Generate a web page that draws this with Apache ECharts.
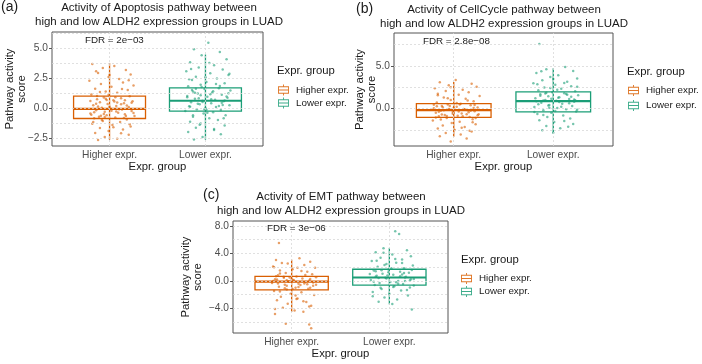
<!DOCTYPE html>
<html>
<head>
<meta charset="utf-8">
<script src="https://cdn.jsdelivr.net/npm/echarts@6/dist/echarts.min.js"></script>
<style>
  html, body { margin: 0; padding: 0; background: #fff; }
  #chart-ctn { width: 702px; height: 364px; }
</style>
</head>
<body>
<div id="chart-ctn"></div>
<script>
var groups = ['Higher expr.', 'Lower expr.'];
var colors = ['#D95F02', '#1B9E77'];

// box stats: [x, whisker low, q1, median, q3, whisker high]
var apoBox = [[1, -2.6, -0.83, -0.03, 1.03, 3.8], [2, -2.6, -0.22, 0.65, 1.72, 4.5]];
var cycBox = [[1, -3.3, -1.05, -0.2, 0.58, 3.1], [2, -2.9, -0.4, 0.86, 1.95, 4.7]];
var emtBox = [[1, -4.5, -1.3, -0.1, 0.68, 3.1], [2, -3.4, -0.6, 0.5, 1.7, 4.8]];

var apoTicks = [-2.5, 0, 2.5, 5];
var apoMinor = [-1.25, 1.25, 3.75, 6.25];
var cycTicks = [0, 5];
var cycMinor = [-2.5, 2.5, 7.5];
var emtTicks = [-4, 0, 4, 8];
var emtMinor = [-6, -2, 2, 6];

var apoHigh = [[0.82,3.72],[1.05,3.55],[0.93,3.38],[1.17,3.21],[0.88,2.96],[1.22,2.84],[0.99,2.62],[1.10,2.47],[0.79,2.31],[1.14,2.18],[0.91,2.05],[1.25,1.92],[1.02,1.81],[0.85,1.66],[1.19,1.54],[0.96,1.43],[1.08,1.31],[0.81,1.18],[1.21,1.02],[0.94,0.93],[1.12,0.86],[0.87,0.77],[1.04,0.69],[1.24,0.61],[0.90,0.52],[1.15,0.44],[0.98,0.37],[0.83,0.28],[1.07,0.21],[1.20,0.13],[0.92,0.06],[1.01,-0.02],[1.13,-0.08],[0.86,-0.14],[1.23,-0.21],[0.95,-0.27],[1.09,-0.34],[0.80,-0.41],[1.16,-0.47],[0.97,-0.55],[1.26,-0.61],[0.89,-0.68],[1.06,-0.74],[0.84,-0.81],[1.18,-0.92],[0.93,-1.04],[1.11,-1.13],[0.82,-1.26],[1.03,-1.38],[1.22,-1.49],[0.90,-1.62],[1.14,-1.75],[0.99,-1.88],[0.85,-2.03],[1.20,-2.19],[0.95,-2.36],[1.08,-2.51],[0.88,-2.62],[1.00,0.15],[0.94,-0.45],[1.12,0.35],[0.87,1.05],[1.17,-0.62],[1.05,0.58],
  [0.97,0.72],[1.18,0.25],[0.84,-0.30],[1.06,0.95],[0.91,-0.60],[1.23,0.48],[1.02,-0.18],[0.80,0.62],[1.15,-0.78],[0.96,0.82],[1.10,-0.05],[0.86,0.40],[1.25,-0.36],[0.99,1.15],[0.83,-1.12],[1.13,1.62],[0.92,-0.95],[1.20,2.35],[1.04,-1.55],[0.88,0.18],[1.16,0.70],[0.95,-0.70],[1.08,0.50],[0.81,-0.52],[1.21,-1.30],[1.00,2.80],[0.90,1.38],[1.12,-2.05],[0.86,3.10],[1.07,-0.25]];
var apoLow = [[2.03,5.48],[1.88,4.95],[2.15,4.72],[1.96,4.45],[2.22,4.10],[1.84,3.85],[2.09,3.60],[1.93,3.42],[2.18,3.25],[1.80,3.10],[2.05,2.95],[2.24,2.80],[1.90,2.66],[2.12,2.50],[1.86,2.38],[2.01,2.22],[2.20,2.10],[1.95,1.98],[1.82,1.86],[2.14,1.70],[1.99,1.62],[2.26,1.50],[1.87,1.42],[2.07,1.33],[1.92,1.25],[2.17,1.16],[1.81,1.05],[2.02,0.98],[2.23,0.90],[1.89,0.82],[2.10,0.74],[1.97,0.66],[2.19,0.60],[1.85,0.52],[2.06,0.45],[1.94,0.36],[2.25,0.28],[1.83,0.20],[2.11,0.12],[2.00,0.04],[1.91,-0.05],[2.16,-0.12],[1.79,-0.20],[2.08,-0.30],[1.98,-0.42],[2.21,-0.55],[1.87,-0.68],[2.04,-0.80],[2.13,-0.95],[1.84,-1.10],[1.95,-1.25],[2.20,-1.42],[1.90,-1.60],[2.09,-1.78],[1.82,-1.95],[2.16,-2.15],[1.97,-2.38],[1.88,-2.58],[2.05,1.20],[1.93,0.85],[2.18,0.30],[1.86,1.55],[2.01,-0.10],
  [1.95,1.10],[2.20,0.68],[1.84,0.15],[2.08,1.45],[1.92,0.40],[2.15,1.88],[2.02,-0.35],[1.81,0.95],[2.24,1.28],[1.97,0.55],[2.11,2.05],[1.87,-0.55],[2.06,0.78],[2.19,-0.80],[1.90,1.65],[2.00,2.60],[1.85,3.30],[2.14,0.22],[1.94,-1.35],[2.22,1.00],[2.04,3.80],[1.89,1.32],[2.17,0.48],[1.99,-0.05],[1.83,2.45],[2.09,-1.70],[2.25,2.90],[1.96,1.80]];

var cycHigh = [[1.02,3.35],[0.86,3.08],[1.18,2.90],[0.95,2.72],[1.23,2.55],[0.81,2.38],[1.09,2.20],[0.92,2.05],[1.15,1.90],[0.84,1.74],[1.05,1.60],[1.26,1.45],[0.90,1.30],[1.12,1.15],[0.97,1.00],[1.20,0.85],[0.83,0.70],[1.07,0.55],[0.94,0.46],[1.17,0.37],[0.88,0.28],[1.03,0.20],[1.24,0.11],[0.80,0.03],[1.10,-0.06],[0.96,-0.13],[1.14,-0.19],[0.87,-0.25],[1.21,-0.33],[0.99,-0.41],[0.82,-0.50],[1.08,-0.58],[1.25,-0.66],[0.91,-0.75],[1.04,-0.84],[0.85,-0.92],[1.16,-1.00],[0.93,-1.12],[1.19,-1.25],[0.79,-1.40],[1.06,-1.55],[0.98,-1.70],[1.22,-1.85],[0.89,-2.00],[1.11,-2.18],[0.84,-2.35],[1.01,-2.52],[1.18,-2.70],[0.92,-2.88],[1.07,-3.05],[0.86,-3.25],[1.13,-3.50],[0.97,-3.85],[1.00,0.10],[1.15,-0.45],[0.88,-0.70],[1.21,0.40],[0.95,-0.05],[1.09,-0.90],[0.83,0.25],
  [0.96,0.30],[1.13,-0.68],[0.85,-0.38],[1.20,0.05],[0.93,-0.88],[1.06,0.48],[0.82,-1.05],[1.17,-0.25],[1.00,-0.52],[0.89,0.15],[1.24,-0.80],[1.03,0.65],[0.87,-1.30],[1.11,-0.10],[0.94,1.20],[1.19,-1.62],[0.80,0.45],[1.08,-2.25],[0.97,2.50],[1.14,0.95],[0.90,-0.20],[1.22,-1.10],[1.05,-0.35],[0.84,1.55],[1.16,-2.60],[0.99,-0.62]];
var cycLow = [[1.86,7.55],[2.12,4.85],[1.93,4.60],[2.20,4.38],[1.83,4.15],[2.05,3.90],[1.97,3.70],[2.24,3.50],[1.89,3.30],[2.14,3.12],[1.80,2.95],[2.02,2.78],[2.18,2.60],[1.91,2.45],[2.08,2.30],[1.85,2.15],[2.22,2.02],[1.99,1.90],[2.11,1.78],[1.87,1.66],[2.25,1.55],[1.95,1.44],[2.06,1.32],[1.82,1.20],[2.16,1.10],[1.92,1.00],[2.03,0.90],[2.21,0.80],[1.88,0.68],[2.09,0.55],[1.96,0.42],[2.19,0.30],[1.81,0.18],[2.04,0.05],[2.13,-0.08],[1.90,-0.20],[2.23,-0.35],[1.98,-0.50],[1.84,-0.65],[2.10,-0.82],[1.94,-1.00],[2.17,-1.18],[1.86,-1.38],[2.01,-1.58],[2.20,-1.80],[1.93,-2.05],[2.07,-2.30],[1.89,-2.55],[2.00,-2.85],[2.14,1.60],[1.85,0.50],[2.05,1.25],[1.97,2.40],[2.24,-0.15],[1.90,0.95],[2.11,3.00],
  [1.98,1.15],[2.16,0.62],[1.87,1.48],[2.08,0.20],[1.93,1.85],[2.21,1.05],[2.02,-0.28],[1.83,0.85],[2.13,1.70],[1.95,0.35],[2.24,2.55],[1.90,-0.75],[2.06,0.75],[2.18,1.38],[1.84,2.85],[2.00,3.45],[2.11,-1.45],[1.96,0.10],[2.22,0.98],[1.88,4.35],[2.04,2.20],[1.81,-0.40],[2.15,-2.15],[1.92,1.75]];

var emtHigh = [[0.87,5.50],[1.08,3.30],[0.84,3.05],[1.19,2.80],[0.96,2.55],[1.13,2.30],[0.81,2.10],[1.24,1.90],[1.01,1.70],[0.88,1.50],[1.16,1.32],[0.94,1.15],[1.21,0.98],[0.86,0.82],[1.05,0.65],[1.25,0.55],[0.92,0.45],[1.11,0.35],[0.83,0.25],[1.02,0.15],[1.18,0.05],[0.97,-0.05],[1.14,-0.15],[0.80,-0.28],[1.07,-0.42],[0.93,-0.56],[1.22,-0.70],[0.87,-0.84],[1.04,-0.98],[1.17,-1.12],[0.95,-1.25],[0.82,-1.45],[1.10,-1.65],[0.99,-1.85],[1.23,-2.05],[0.89,-2.30],[1.06,-2.55],[0.85,-2.80],[1.15,-3.05],[0.96,-3.30],[1.20,-3.60],[0.91,-3.90],[0.83,-4.05],[1.12,-4.45],[0.83,-4.80],[1.03,-4.30],[0.94,-6.20],[1.18,-6.30],[1.20,-6.85],[1.00,0.30],[1.09,-0.60],[0.88,1.10],[1.19,-1.00],[0.95,0.10],[1.13,-0.35],[0.82,2.00],[1.05,-2.60],
  [0.98,0.50],[1.16,-0.48],[0.85,0.20],[1.07,-0.88],[0.92,0.62],[1.22,-0.22],[1.01,-1.18],[0.81,-0.02],[1.14,0.85],[0.95,-0.70],[1.10,1.45],[0.88,-1.52],[1.19,0.28],[1.04,-2.10],[0.90,2.60],[1.25,-0.55],[0.97,-0.12],[1.12,-2.95],[0.84,0.70],[1.06,1.90],[0.93,-1.05],[1.18,-3.70],[1.02,0.05],[0.86,-0.35]];
var emtLow = [[2.06,7.20],[2.10,6.80],[1.94,4.75],[2.18,4.45],[1.86,4.15],[2.03,3.85],[2.22,3.60],[1.91,3.35],[2.13,3.10],[1.82,2.88],[2.07,2.65],[1.97,2.45],[2.24,2.25],[1.88,2.05],[2.15,1.85],[1.99,1.65],[1.84,1.50],[2.11,1.35],[2.20,1.20],[1.93,1.05],[2.04,0.90],[1.87,0.75],[2.17,0.60],[1.96,0.45],[2.25,0.30],[1.81,0.15],[2.09,0.00],[2.01,-0.15],[1.90,-0.30],[2.14,-0.45],[1.85,-0.58],[2.05,-0.75],[2.21,-0.95],[1.92,-1.15],[2.12,-1.38],[1.83,-1.60],[2.00,-1.85],[2.19,-2.10],[1.95,-2.40],[2.08,-2.70],[1.89,-3.00],[2.03,-3.35],[2.23,-4.15],[2.16,0.50],[1.86,1.40],[2.07,-0.20],[1.98,0.80],[2.13,2.60],[1.91,-1.00],[2.22,0.25],[1.80,1.00],
  [1.97,0.35],[2.15,1.15],[1.86,0.62],[2.09,-0.40],[1.92,1.55],[2.21,0.08],[2.02,1.85],[1.84,-0.12],[2.13,0.95],[1.95,2.30],[2.25,-0.65],[1.89,0.42],[2.06,3.20],[2.18,-1.30],[1.99,1.25],[1.83,-2.20],[2.11,0.70],[1.94,4.10],[2.23,1.60],[2.04,-0.88],[1.87,2.95],[2.16,-0.02]];

var titles = [
  'Activity of Apoptosis pathway between\nhigh and low ALDH2 expression groups in LUAD',
  'Activity of CellCycle pathway between\nhigh and low ALDH2 expression groups in LUAD',
  'Activity of EMT pathway between\nhigh and low ALDH2 expression groups in LUAD'
];
var fdrs = ['FDR = 2e\u221203', 'FDR = 2.8e\u221208', 'FDR = 3e\u221206'];
var tags = ['(a)', '(b)', '(c)'];

var FONT = "'Liberation Sans', Arial, sans-serif";
var BOX_WIDTH = 0.75;
var ICON = 'path://M0,2H12V10H0ZM1,3V9H11V3ZM1,5.5H11V6.5H1ZM5.5,0H6.5V2H5.5ZM5.5,10H6.5V12H5.5Z';

// panel layout: grid rect, y range, text spots
var panels = [
  {grid: {left: 52, top: 32, width: 211, height: 114}, ymin: -3.12, ymax: 6.38, nameGap: 24,
   box: apoBox, high: apoHigh, low: apoLow, ticks: apoTicks, minor: apoMinor,
   title: [159, 1.5], tag: [1, 0], fdr: [85, 35], legT: [277, 65], leg: [278, 84.5], gap: 2},
  {grid: {left: 394, top: 33, width: 219, height: 113}, ymin: -4.39, ymax: 8.84, nameGap: 16,
   box: cycBox, high: cycHigh, low: cycLow, ticks: cycTicks, minor: cycMinor,
   title: [504, 3.4], tag: [356, 2], fdr: [423, 36], legT: [627, 66], leg: [628, 85], gap: 4},
  {grid: {left: 233, top: 221, width: 215, height: 112}, ymin: -7.55, ymax: 8.7, nameGap: 29,
   box: emtBox, high: emtHigh, low: emtLow, ticks: emtTicks, minor: emtMinor,
   title: [341, 190.5], tag: [203, 188.5], fdr: [267, 223.5], legT: [461, 254], leg: [461, 273], gap: 2}
];

function renderBox(params, api) {
  var x = api.value(0);
  var lo = api.coord([x, api.value(1)]);
  var q1 = api.coord([x, api.value(2)]);
  var md = api.coord([x, api.value(3)]);
  var q3 = api.coord([x, api.value(4)]);
  var hi = api.coord([x, api.value(5)]);
  var half = api.size([BOX_WIDTH, 0])[0] / 2;
  var color = api.visual('color');
  return {
    type: 'group',
    children: [
      {type: 'line', shape: {x1: lo[0], y1: lo[1], x2: hi[0], y2: hi[1]}, style: {stroke: color, lineWidth: 1.3}},
      {type: 'rect', shape: {x: q3[0] - half, y: q3[1], width: half * 2, height: q1[1] - q3[1]}, style: {fill: 'none', stroke: color, lineWidth: 1.3}},
      {type: 'line', shape: {x1: md[0] - half, y1: md[1], x2: md[0] + half, y2: md[1]}, style: {stroke: color, lineWidth: 2.2}}
    ]
  };
}

function yLabel(v) {
  return (v < 0 ? '\u2212' : '') + Math.abs(v).toFixed(1);
}

var option = {
  animation: false,
  backgroundColor: '#fff',
  title: [], legend: [], grid: [], xAxis: [], yAxis: [], series: []
};

panels.forEach(function(p, i) {
  option.grid.push({left: p.grid.left, top: p.grid.top, width: p.grid.width, height: p.grid.height,
    show: true, borderColor: '#555', borderWidth: 1, backgroundColor: 'transparent'});

  option.xAxis.push({
    type: 'value', gridIndex: i, min: 0.4, max: 2.6,
    name: 'Expr. group', nameLocation: 'middle', nameGap: 15, nameMoveOverlap: false,
    nameTextStyle: {fontFamily: FONT, fontSize: 11.3, color: '#1a1a1a'},
    axisLine: {show: false},
    axisTick: {show: true, length: 3, lineStyle: {color: '#555'}, customValues: [1, 2]},
    axisLabel: {customValues: [1, 2], margin: 4, fontFamily: FONT, fontSize: 10.2, color: '#4d4d4d',
      formatter: function(v) { return groups[Math.round(v) - 1]; }},
    splitLine: {show: false}
  });

  option.yAxis.push({
    type: 'value', gridIndex: i, min: p.ymin, max: p.ymax,
    name: 'Pathway activity\nscore', nameLocation: 'middle', nameRotate: 90, nameGap: p.nameGap,
    nameMoveOverlap: false,
    nameTextStyle: {fontFamily: FONT, fontSize: 11.3, color: '#1a1a1a', lineHeight: 12},
    axisLine: {show: false},
    axisTick: {show: true, length: 3, lineStyle: {color: '#555'}, customValues: p.ticks},
    axisLabel: {customValues: p.ticks, margin: 4, fontFamily: FONT, fontSize: 10.2, color: '#4d4d4d', formatter: yLabel},
    splitLine: {show: false}
  });

  var lines = [];
  p.ticks.concat(p.minor).forEach(function(v) { lines.push({yAxis: v}); });
  lines.push({xAxis: 1});
  lines.push({xAxis: 2});

  option.series.push({
    type: 'scatter', name: 'grid', xAxisIndex: i, yAxisIndex: i, data: [], z: 0, silent: true,
    markLine: {silent: true, symbol: ['none', 'none'], label: {show: false},
      lineStyle: {color: '#d9d9d9', type: [2, 2], width: 0.8}, data: lines}
  });

  [p.high, p.low].forEach(function(pts, g) {
    option.series.push({
      type: 'custom', name: groups[g], xAxisIndex: i, yAxisIndex: i, z: 2,
      itemStyle: {color: colors[g]},
      encode: {x: 0, y: [1, 2, 3, 4, 5]},
      renderItem: renderBox,
      data: [p.box[g]]
    });
    option.series.push({
      type: 'scatter', name: groups[g], xAxisIndex: i, yAxisIndex: i, z: 3,
      symbolSize: 2.5, itemStyle: {color: colors[g], opacity: 0.6},
      data: pts
    });
  });

  option.title.push({text: titles[i], left: p.title[0], top: p.title[1], textAlign: 'center', padding: 0,
    textStyle: {fontFamily: FONT, fontSize: 11.5, fontWeight: 'normal', color: '#1a1a1a', lineHeight: 13.4}});
  option.title.push({text: tags[i], left: p.tag[0], top: p.tag[1], padding: 0,
    textStyle: {fontFamily: FONT, fontSize: 14, fontWeight: 'normal', color: '#1a1a1a'}});
  option.title.push({text: fdrs[i], left: p.fdr[0], top: p.fdr[1], padding: 0,
    textStyle: {fontFamily: FONT, fontSize: 9.8, fontWeight: 'normal', color: '#1a1a1a'}});
  option.title.push({text: 'Expr. group', left: p.legT[0], top: p.legT[1], padding: 0,
    textStyle: {fontFamily: FONT, fontSize: 11.3, fontWeight: 'normal', color: '#1a1a1a'}});

  option.legend.push({
    orient: 'vertical', left: p.leg[0], top: p.leg[1], padding: 0, itemGap: p.gap,
    itemWidth: 11, itemHeight: 11, selectedMode: false,
    textStyle: {fontFamily: FONT, fontSize: 9.8, color: '#1a1a1a', padding: [0, 0, 0, 2]},
    itemStyle: {opacity: 0.85},
    data: [{name: groups[0], icon: ICON}, {name: groups[1], icon: ICON}]
  });
});

var myChart = echarts.init(document.getElementById('chart-ctn'));
myChart.setOption(option);
</script>
</body>
</html>
